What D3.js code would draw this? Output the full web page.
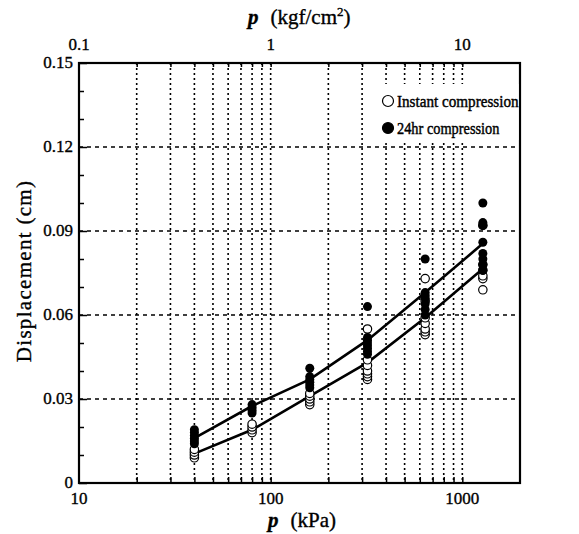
<!DOCTYPE html>
<html>
<head>
<meta charset="utf-8">
<script src="https://cdn.jsdelivr.net/npm/d3@7"></script>
<style>
	body { margin: 0; background: #fff; }
</style>
</head>
<body>
<div id="chart"></div>
<script>
"use strict"

// applied pressure steps (kPa)
var pressures = [40, 80, 160, 320, 640, 1280];

// measured displacement (cm), one list per pressure step
var instantPts = [
	[0.009, 0.010, 0.011, 0.012],
	[0.018, 0.019, 0.020, 0.021],
	[0.028, 0.029, 0.030, 0.031, 0.032],
	[0.037, 0.038, 0.039, 0.040, 0.042, 0.044, 0.055],
	[0.053, 0.054, 0.055, 0.057, 0.059, 0.065, 0.073],
	[0.069, 0.073, 0.074, 0.076, 0.078, 0.092]
];
var hr24Pts = [
	[0.014, 0.015, 0.016, 0.017, 0.018, 0.019],
	[0.025, 0.026, 0.027, 0.028],
	[0.034, 0.035, 0.036, 0.037, 0.038, 0.041],
	[0.046, 0.047, 0.048, 0.049, 0.050, 0.051, 0.052, 0.063],
	[0.060, 0.062, 0.064, 0.066, 0.067, 0.068, 0.080],
	[0.076, 0.078, 0.080, 0.082, 0.086, 0.092, 0.093, 0.100]
];

// mean curves
var instantFit = [0.0105, 0.019, 0.031, 0.043, 0.059, 0.0765];
var hr24Fit    = [0.016, 0.0275, 0.037, 0.051, 0.068, 0.0855];

var kpaTicks  = [10, 100, 1000];
var kgfTicks  = [0.1, 1, 10];
var kpaGrid   = [20, 30, 40, 50, 60, 70, 80, 90, 100, 200, 300, 400, 500, 600, 700, 800, 900, 1000];
var kgfMinor  = [0.2, 0.3, 0.4, 0.5, 0.6, 0.7, 0.8, 0.9, 1, 2, 3, 4, 5, 6, 7, 8, 9, 10];
var dispTicks = [0, 0.03, 0.06, 0.09, 0.12, 0.15];
var dispMinor = [0.01, 0.02, 0.04, 0.05, 0.07, 0.08, 0.10, 0.11, 0.13, 0.14];

var legendItems = ["Instant compression", "24hr compression"];

var SERIF = "'Liberation Serif', 'Times New Roman', Times, serif";

//
// layout
//
var W = 579, H = 534;
var m = { left: 79, right: 59, top: 63, bottom: 51 };
var w = W - m.left - m.right;
var h = H - m.top - m.bottom;

var svg = d3.select("#chart").append("svg")
	.attr("width", W)
	.attr("height", H)
	.attr("font-family", SERIF)
	;
var g = svg.append("g")
	.attr("transform", "translate(" + m.left + "," + m.top + ")")
	;

var x = d3.scaleLog().domain([10, 2000]).range([0, w]);
var xTop = d3.scaleLog().domain([0.1, 20]).range([0, w]);
var y = d3.scaleLinear().domain([0, 0.15]).range([h, 0]);

//
// grid
//
g.append("g").selectAll("line")
	.data(kpaGrid)
	.join("line")
	.attr("x1", function(d) { return x(d); })
	.attr("x2", function(d) { return x(d); })
	.attr("y1", 0)
	.attr("y2", h)
	.attr("stroke", "#000")
	.attr("stroke-width", 1.6)
	.attr("stroke-dasharray", "2,3")
	;
g.append("g").selectAll("line")
	.data(dispTicks.slice(1, -1))
	.join("line")
	.attr("x1", 0)
	.attr("x2", w)
	.attr("y1", function(d) { return y(d); })
	.attr("y2", function(d) { return y(d); })
	.attr("stroke", "#000")
	.attr("stroke-width", 1.6)
	.attr("stroke-dasharray", "4,4")
	;

//
// axes (ticks point inward)
//
var yAxis = g.append("g")
	.call(d3.axisRight(y).tickValues(dispTicks).tickSize(8).tickFormat(""))
	;
var yMinor = g.append("g")
	.call(d3.axisRight(y).tickValues(dispMinor).tickSize(5).tickFormat(""))
	;
var xAxis = g.append("g")
	.attr("transform", "translate(0," + h + ")")
	.call(d3.axisTop(x).tickValues(kpaGrid).tickSize(6).tickFormat(""))
	;
var xTopAxis = g.append("g")
	.call(d3.axisBottom(xTop).tickValues(kgfMinor).tickSize(4).tickFormat(""))
	;
[yAxis, yMinor, xAxis, xTopAxis].forEach(function(a) {
	a.select(".domain").remove();
	a.selectAll("line").attr("stroke", "#000").attr("stroke-width", 1.5);
});

// frame
g.append("rect")
	.attr("x", 0)
	.attr("y", 0)
	.attr("width", w)
	.attr("height", h)
	.attr("fill", "none")
	.attr("stroke", "#000")
	.attr("stroke-width", 2.2)
	;

// tick labels
function label(sel) {
	sel.attr("font-family", SERIF)
		.attr("font-size", 17)
		.attr("fill", "#000")
		.attr("stroke", "#000")
		.attr("stroke-width", 0.35)
		;
}
g.append("g").selectAll("text")
	.data(dispTicks)
	.join("text")
	.attr("x", -6)
	.attr("y", function(d) { return y(d) + 5; })
	.attr("text-anchor", "end")
	.call(label)
	.text(function(d) { return d === 0 ? "0" : d3.format(".2f")(d); })
	;
g.append("g").selectAll("text")
	.data(kpaTicks)
	.join("text")
	.attr("x", function(d) { return x(d); })
	.attr("y", h + 21)
	.attr("text-anchor", "middle")
	.call(label)
	.text(function(d) { return d; })
	;
g.append("g").selectAll("text")
	.data(kgfTicks)
	.join("text")
	.attr("x", function(d) { return xTop(d); })
	.attr("y", -13)
	.attr("text-anchor", "middle")
	.call(label)
	.text(function(d) { return d; })
	;

// axis titles
var tTop = svg.append("text")
	.attr("x", 248)
	.attr("y", 24)
	.call(label)
	.attr("font-size", 21)
	;
tTop.append("tspan").attr("font-style", "italic").attr("font-weight", "bold").text("p");
tTop.append("tspan").attr("dx", 12).text("(kgf/cm");
tTop.append("tspan").attr("dy", -8).attr("font-size", 13).text("2");
tTop.append("tspan").attr("dy", 8).text(")");

var tBot = svg.append("text")
	.attr("x", 268)
	.attr("y", 527)
	.call(label)
	.attr("font-size", 21)
	;
tBot.append("tspan").attr("font-style", "italic").attr("font-weight", "bold").text("p");
tBot.append("tspan").attr("dx", 12).text("(kPa)");

svg.append("text")
	.attr("transform", "translate(31," + (m.top + h / 2 - 2) + ") rotate(-90)")
	.attr("text-anchor", "middle")
	.call(label)
	.attr("font-size", 21)
	.attr("letter-spacing", 1.3)
	.text("Displacement (cm)")
	;

//
// mean curves
//
var line = d3.line()
	.x(function(d, i) { return x(pressures[i]); })
	.y(function(d) { return y(d); })
	;
[instantFit, hr24Fit].forEach(function(fit) {
	g.append("path")
		.datum(fit)
		.attr("d", line)
		.attr("fill", "none")
		.attr("stroke", "#000")
		.attr("stroke-width", 2.6)
		;
});

//
// points
//
function flatten(sets) {
	var out = [];
	sets.forEach(function(vals, i) {
		vals.forEach(function(v) { out.push({ p: pressures[i], v: v }); });
	});
	return out;
}
g.append("g").selectAll("circle")
	.data(flatten(instantPts))
	.join("circle")
	.attr("cx", function(d) { return x(d.p); })
	.attr("cy", function(d) { return y(d.v); })
	.attr("r", 4.2)
	.attr("fill", "#fff")
	.attr("stroke", "#000")
	.attr("stroke-width", 1.2)
	;
g.append("g").selectAll("circle")
	.data(flatten(hr24Pts))
	.join("circle")
	.attr("cx", function(d) { return x(d.p); })
	.attr("cy", function(d) { return y(d.v); })
	.attr("r", 4.5)
	.attr("fill", "#000")
	;

//
// legend (white box hides the grid behind it)
//
svg.append("rect")
	.attr("x", 377)
	.attr("y", 84)
	.attr("width", w + m.left - 377 - 1.5)
	.attr("height", 56)
	.attr("fill", "#fff")
	;
var leg = svg.append("g")
	.attr("transform", "translate(388,101)")
	;
leg.selectAll("circle")
	.data(legendItems)
	.join("circle")
	.attr("cx", 0)
	.attr("cy", function(d, i) { return i * 27; })
	.attr("r", 5.5)
	.attr("fill", function(d, i) { return i ? "#000" : "#fff"; })
	.attr("stroke", "#000")
	.attr("stroke-width", 1.2)
	;
leg.selectAll("text")
	.data(legendItems)
	.join("text")
	.attr("x", 9)
	.attr("y", function(d, i) { return i * 27 + 6; })
	.call(label)
	.attr("font-size", 17.5)
	.attr("stroke-width", 0.45)
	.attr("textLength", function(d) { return d.length * 6.4; })
	.attr("lengthAdjust", "spacingAndGlyphs")
	.text(function(d) { return d; })
	;
</script>
</body>
</html>
